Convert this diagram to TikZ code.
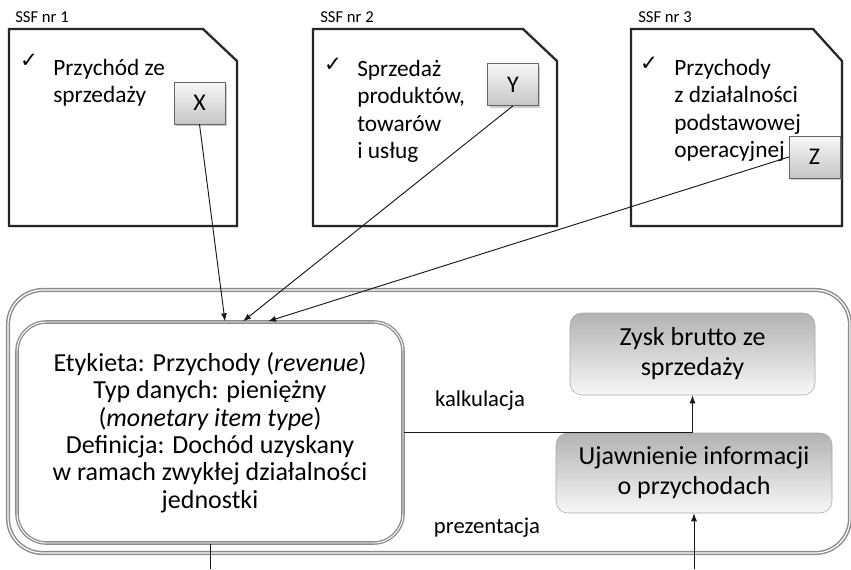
\documentclass[tikz,border=0pt]{standalone}
\usepackage{fontspec}
\setmainfont{Carlito}
\newfontfamily\symfont{DejaVu Sans}
\usetikzlibrary{arrows.meta,shadows,positioning}

\begin{document}
\begin{tikzpicture}[x=0.75pt,y=-0.75pt,>={Latex[length=6pt,width=4.5pt]},
    doc/.style={line width=1.7pt,draw=black!85,fill=white,drop shadow={shadow xshift=1pt,shadow yshift=-1pt,opacity=.3}},
    code/.style={draw=black!60,top color=gray!6,bottom color=gray!45,minimum width=38pt,minimum height=31.5pt,
      font=\fontsize{18}{20}\selectfont,drop shadow={shadow xshift=1.5pt,shadow yshift=-1.5pt,opacity=.4}},
    item/.style={align=left,anchor=north west,inner sep=0pt,font=\fontsize{17.5}{20.5}\selectfont},
    tick/.style={inner sep=0pt,font=\symfont\fontsize{16}{18}\selectfont},
    ssf/.style={anchor=west,inner sep=0pt,font=\fontsize{12.5}{14}\selectfont},
    frame/.style={draw=gray!90,double=white,double distance=0.9pt,line width=1.1pt,rounded corners=26pt},
    elem/.style={draw=gray!90,double=white,double distance=0.7pt,line width=1pt,rounded corners=22pt,
      minimum width=289.5pt,minimum height=165.75pt,align=center,font=\fontsize{19.5}{20.6}\selectfont},
    report/.style={draw=gray!70,rounded corners=9pt,top color=gray!60,bottom color=gray!6,align=center,
      font=\fontsize{19.5}{22.5}\selectfont},
    lbl/.style={inner sep=0pt,font=\fontsize{17}{20}\selectfont},
    link/.style={line width=0.7pt,draw=black!90}]
  \useasboundingbox (0,0) rectangle (851,569);

  % sprawozdania
  \node[ssf] (ssf1) at (15,17) {SSF nr 1};
  \node[ssf] (ssf2) at (320,17) {SSF nr 2};
  \node[ssf] (ssf3) at (638,17) {SSF nr 3};
  \draw[doc] (9,29) -- (203,29) -- (237,61) -- (237,226) -- (9,226) -- cycle;
  \draw[doc] (313,29) -- (523,29) -- (557,61) -- (557,226) -- (313,226) -- cycle;
  \draw[doc] (631,29) -- (813,29) -- (842,61) -- (842,226) -- (631,226) -- cycle;

  \node[tick] (t1) at (29,61) {✓};
  \node[item] (p1) at (53,59) {Przychód ze\\sprzedaży};
  \node[tick] (t2) at (333,65) {✓};
  \node[item] (p2) at (357,60) {Sprzedaż\\produktów,\\towarów\\i usług};
  \node[tick] (t3) at (649,64) {✓};
  \node[item] (p3) at (674,59) {Przychody\\z działalności\\podstawowej\\operacyjnej};

  \node[code] (x) at (199.5,103) {X};
  \node[code] (y) at (513,84.5) {Y};
  \node[code] (z) at (814.5,157) {Z};

  % taksonomia
  \draw[frame] (8,290) rectangle (850,553);
  \node[elem] (rev) at (210,432.5) {Etykieta: Przychody (\textit{revenue})\\
    Typ danych: pieniężny\\(\textit{monetary item type})\\
    Definicja: Dochód uzyskany\\ w ramach zwykłej działalności\\jednostki};
  \node[report,minimum width=183.75pt,minimum height=61.5pt] (zysk) at (692.5,354) {Zysk brutto ze\\sprzedaży};
  \node[report,minimum width=207pt,minimum height=60pt] (ujaw) at (694,473) {Ujawnienie informacji\\o przychodach};
  \node[lbl] (kalk) at (480,401) {kalkulacja};
  \node[lbl] (prez) at (487,528) {prezentacja};

  \coordinate (dol1) at (210,569);
  \coordinate (dol2) at (694,569);

  \draw[link,->] (x.south) -- ([xshift=11.25pt]rev.north);
  \draw[link,->] (y.south) -- ([xshift=24.75pt]rev.north);
  \draw[link,->] (z.west) -- ([xshift=43.5pt]rev.north);
  \draw[link,->] (rev.east) -| (zysk.south);
  \draw[link] (rev.south) -- (dol1);
  \draw[link,->] (dol2) -- (ujaw.south);
\end{tikzpicture}
\end{document}
